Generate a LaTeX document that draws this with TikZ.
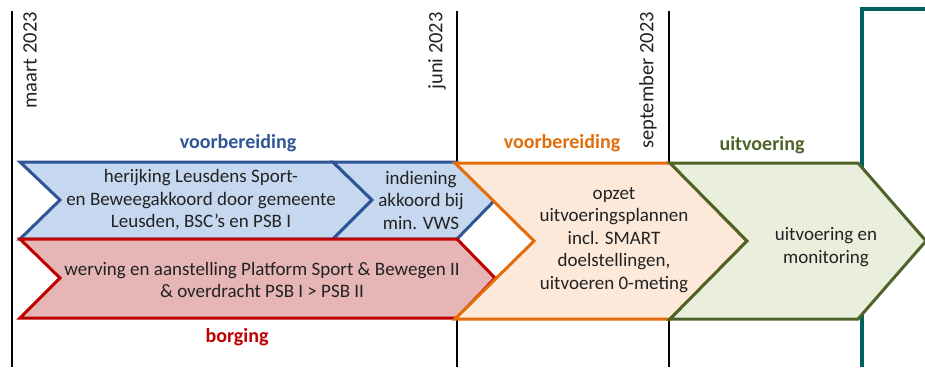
\documentclass[tikz,border=0pt]{standalone}
\usepackage{fontspec}
\setmainfont{Carlito}
\definecolor{plannavy}{HTML}{2F5597}
\definecolor{planblue}{HTML}{C6D8EF}
\definecolor{planred}{HTML}{C00000}
\definecolor{planrose}{HTML}{E6B6B6}
\definecolor{planorange}{HTML}{E46C0A}
\definecolor{planpeach}{HTML}{FCE9DA}
\definecolor{planolive}{HTML}{4F6228}
\definecolor{plansage}{HTML}{EAEFDD}
\definecolor{planteal}{HTML}{005F5F}
\definecolor{plantext}{HTML}{222222}

\begin{document}
\begin{tikzpicture}[x=1pt, y=-1pt,
  month/.style={rotate=90, anchor=east, inner sep=0pt, text=plantext, font=\fontsize{20.5}{24}\selectfont},
  phase/.style={inner sep=0pt, font=\bfseries\fontsize{20}{24}\selectfont},
  task/.style={align=center, inner sep=0pt, text=plantext, font=\fontsize{19}{22.5}\selectfont},
  band/.style={line width=3pt, line join=miter}]
\useasboundingbox (0,0) rectangle (925,367);

% month lines
\draw[line width=2pt] (12,11) -- (12,367);
\draw[line width=2pt] (457,11) -- (457,367);
\draw[line width=2pt] (669,11) -- (669,367);
\draw[line width=4.5pt, planteal] (862,367) -- (862,9) -- (927,9);

\node[month] (maart) at (30,12) {maart 2023};
\node[month] (juni) at (437,12) {juni 2023};
\node[month] (sept) at (648,12) {september 2023};

% chevrons
\filldraw[band, draw=plannavy, fill=planblue]
  (20,162) -- (333,162) -- (372,200) -- (333,239) -- (20,239) -- (60,200) -- cycle;
\filldraw[band, draw=plannavy, fill=planblue]
  (333,162) -- (457,162) -- (495,200) -- (457,239) -- (333,239) -- (372,200) -- cycle;
\filldraw[band, draw=planred, fill=planrose]
  (20,239) -- (457,239) -- (495,278) -- (457,318) -- (20,318) -- (60,278) -- cycle;
\filldraw[band, draw=planorange, fill=planpeach]
  (455,163) -- (670,163) -- (747,241) -- (670,319) -- (455,319) -- (534,241) -- cycle;
\filldraw[band, draw=planolive, fill=plansage]
  (670,163) -- (858,163) -- (926,241) -- (858,319) -- (670,319) -- (747,241) -- cycle;

\node[task] (herijking) at (201,200) {herijking Leusdens Sport-\\en Beweegakkoord door gemeente\\Leusden, BSC’s en PSB I};
\node[task] (indiening) at (421,200) {indiening\\akkoord bij\\min. VWS};
\node[task] (werving) at (262,280) {werving en aanstelling Platform Sport \& Bewegen II\\\& overdracht PSB I > PSB II};
\node[task] (opzet) at (614,240) {opzet\\uitvoeringsplannen\\incl. SMART\\doelstellingen,\\uitvoeren 0-meting};
\node[task] (monitoring) at (826,247) {uitvoering en\\monitoring};

% phase labels
\node[phase, text=plannavy] (voorbereidingA) at (238,143) {voorbereiding};
\node[phase, text=planorange] (voorbereidingB) at (562,143) {voorbereiding};
\node[phase, text=planolive] (uitvoering) at (762,145) {uitvoering};
\node[phase, text=planred] (borging) at (237,337) {borging};
\end{tikzpicture}
\end{document}
